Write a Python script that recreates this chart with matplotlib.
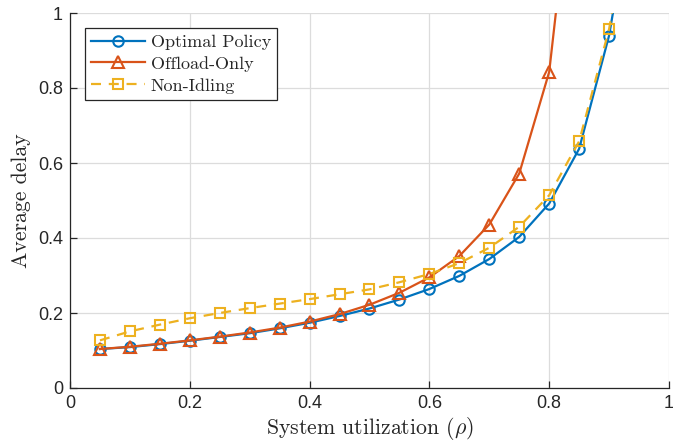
import matplotlib
matplotlib.use("Agg")
import matplotlib.pyplot as plt

rho = [0.05, 0.10, 0.15, 0.20, 0.25, 0.30, 0.35, 0.40, 0.45, 0.50,
       0.55, 0.60, 0.65, 0.70, 0.75, 0.80, 0.85, 0.90, 0.95]
optimal = [0.104, 0.109, 0.117, 0.126, 0.136, 0.146, 0.159, 0.174, 0.192, 0.212,
           0.236, 0.264, 0.299, 0.344, 0.403, 0.492, 0.638, 0.940, 1.41]
rho_off = [0.05, 0.10, 0.15, 0.20, 0.25, 0.30, 0.35, 0.40, 0.45, 0.50,
           0.55, 0.60, 0.65, 0.70, 0.75, 0.80, 0.85]
offload = [0.104, 0.110, 0.118, 0.127, 0.137, 0.148, 0.161, 0.177, 0.197, 0.222,
           0.254, 0.295, 0.352, 0.436, 0.572, 0.843, 1.55]
nonidle = [0.127, 0.151, 0.169, 0.186, 0.200, 0.213, 0.225, 0.237, 0.250, 0.263,
           0.282, 0.304, 0.333, 0.374, 0.430, 0.514, 0.658, 0.957, 1.42]

plt.rcParams['font.family'] = ['cmr10', 'DejaVu Serif']
plt.rcParams['mathtext.fontset'] = 'cm'
plt.rcParams['axes.unicode_minus'] = False
plt.rcParams['axes.formatter.use_mathtext'] = True

fig = plt.figure(figsize=(6.73, 4.45), dpi=100)
ax = fig.add_axes([70/673, 1-388/445, 599/673, 375/445])

blue, red, yel = '#0072BD', '#D95319', '#EDB120'
ax.plot(rho, optimal, '-o', color=blue, lw=1.6, ms=7.5, mfc='none', mew=1.5,
        label='Optimal Policy')
ax.plot(rho_off, offload, '-^', color=red, lw=1.6, ms=8.5, mfc='none', mew=1.5,
        label='Offload-Only')
ax.plot(rho, nonidle, '--s', color=yel, lw=1.6, ms=7, mfc='none', mew=1.5,
        label='Non-Idling', dashes=(4.5, 3.5))

ax.set_xlim(0, 1)
ax.set_ylim(0, 1)
ticks = [0, 0.2, 0.4, 0.6, 0.8, 1]
labels = ['0', '0.2', '0.4', '0.6', '0.8', '1']
ax.set_xticks(ticks)
ax.set_xticklabels(labels, family='Liberation Sans')
ax.set_yticks(ticks)
ax.set_yticklabels(labels, family='Liberation Sans')
ax.grid(True, color='#dcdcdc', lw=0.9)
ax.set_axisbelow(True)
for s in ['top', 'right']:
    ax.spines[s].set_visible(False)
for s in ['left', 'bottom']:
    ax.spines[s].set_color('#262626')
    ax.spines[s].set_linewidth(0.9)
ax.tick_params(direction='in', length=5, width=0.9, colors='#262626',
               labelsize=13, pad=5)
ax.set_xlabel(r'System utilization ($\rho$)', fontsize=15.7, color='#262626', labelpad=2)
ax.set_ylabel('Average delay', fontsize=15.7, color='#262626', labelpad=5)

leg = ax.legend(loc='upper left', bbox_to_anchor=(0.025, 0.96), fontsize=13,
                fancybox=False, framealpha=1, edgecolor='#262626',
                handlelength=3.0, borderpad=0.35, labelspacing=0.33,
                handletextpad=0.3, borderaxespad=0)
leg.get_frame().set_linewidth(0.9)
for t in leg.get_texts():
    t.set_color('#262626')

fig.savefig('out.png', dpi=100)
